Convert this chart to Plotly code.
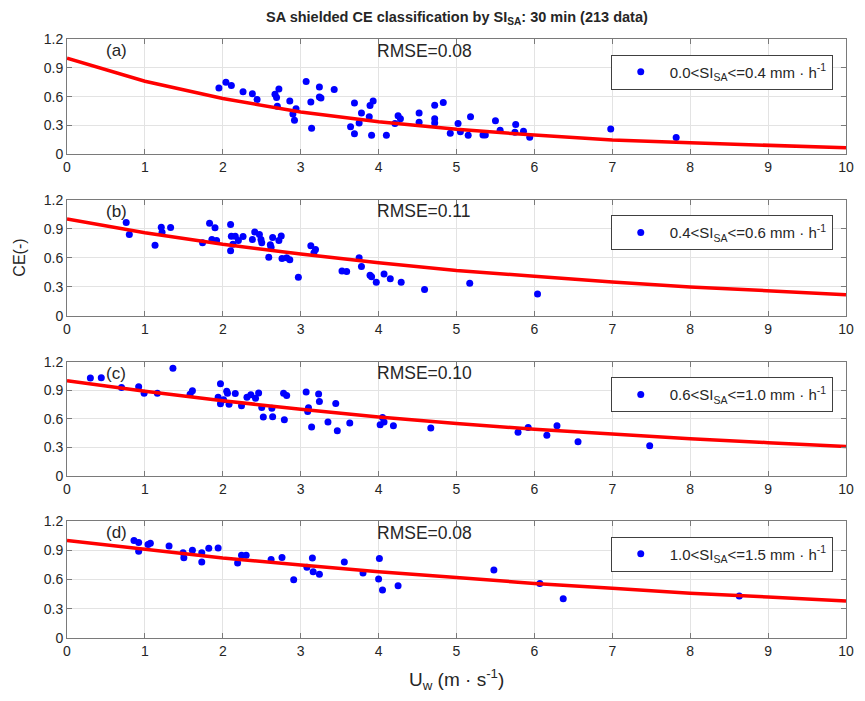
import plotly.graph_objects as go

# fitted curves, read at integer wind speeds
fit_x = [0, 1, 2, 3, 4, 5, 6, 7, 8, 9, 10]
fit_a = [1.0, 0.76, 0.58, 0.44, 0.34, 0.26, 0.20, 0.15, 0.12, 0.09, 0.067]
fit_b = [1.0, 0.86, 0.74, 0.64, 0.55, 0.47, 0.41, 0.35, 0.30, 0.26, 0.22]
fit_c = [1.0, 0.89, 0.79, 0.70, 0.62, 0.55, 0.49, 0.44, 0.39, 0.35, 0.31]
fit_d = [1.0, 0.91, 0.82, 0.75, 0.68, 0.62, 0.56, 0.51, 0.46, 0.42, 0.38]

# (a) 0.0<SI<=0.4
xa = [1.95, 2.04, 2.11, 2.26, 2.38, 2.44, 2.67, 2.69, 2.72, 2.70, 2.86, 2.94, 2.90, 2.92,
      3.07, 3.13, 3.14, 3.24, 3.24, 3.26, 3.43, 3.69, 3.64, 3.69, 3.78, 3.75, 3.88, 3.89,
      3.93, 3.91, 4.10, 4.21, 4.25, 4.28, 4.52, 4.52, 4.72, 4.72, 4.72, 4.83, 4.92, 5.02,
      5.05, 5.15, 5.18, 5.34, 5.37, 5.50, 5.56, 5.75, 5.76, 5.86, 5.94, 6.98, 7.82]
ya = [0.69, 0.75, 0.715, 0.65, 0.63, 0.57, 0.625, 0.59, 0.68, 0.50, 0.555, 0.475, 0.42, 0.354,
      0.757, 0.545, 0.27, 0.70, 0.597, 0.587, 0.674, 0.535, 0.288, 0.215, 0.43, 0.326, 0.39, 0.507,
      0.556, 0.198, 0.198, 0.32, 0.40, 0.37, 0.43, 0.333, 0.51, 0.37, 0.326, 0.54, 0.219, 0.32,
      0.236, 0.198, 0.39, 0.20, 0.20, 0.35, 0.25, 0.23, 0.31, 0.24, 0.177, 0.264, 0.174]

# (b) 0.4<SI<=0.6
xb = [0.76, 0.80, 1.13, 1.21, 1.22, 1.33, 1.74, 1.83, 1.90, 1.86, 1.92, 2.10, 2.11, 2.10,
      2.13, 2.16, 2.20, 2.26, 2.38, 2.41, 2.47, 2.49, 2.50, 2.61, 2.62, 2.59, 2.64, 2.72,
      2.75, 2.76, 2.82, 2.86, 2.97, 3.13, 3.19, 3.17, 3.53, 3.59, 3.75, 3.78, 3.89, 3.91,
      3.97, 4.07, 4.15, 4.29, 4.59, 5.17, 6.04]
yb = [0.965, 0.84, 0.73, 0.917, 0.865, 0.913, 0.757, 0.958, 0.91, 0.79, 0.78, 0.944, 0.823, 0.674,
      0.74, 0.823, 0.78, 0.82, 0.79, 0.868, 0.84, 0.79, 0.757, 0.736, 0.71, 0.607, 0.81, 0.78,
      0.826, 0.594, 0.60, 0.58, 0.40, 0.725, 0.687, 0.653, 0.465, 0.458, 0.60, 0.51, 0.42, 0.406,
      0.347, 0.434, 0.385, 0.347, 0.274, 0.337, 0.226]

# (c) 0.6<SI<=1.0
xc = [0.30, 0.44, 0.70, 0.92, 0.99, 1.16, 1.36, 1.58, 1.61, 1.97, 1.94, 1.97, 2.01, 2.05,
      2.06, 2.08, 2.16, 2.24, 2.31, 2.36, 2.42, 2.46, 2.50, 2.52, 2.63, 2.64, 2.78, 2.82,
      2.79, 3.07, 3.10, 3.09, 3.14, 3.23, 3.24, 3.35, 3.45, 3.47, 3.63, 4.02, 4.05, 4.07,
      4.19, 4.67, 5.79, 5.92, 6.16, 6.29, 6.56, 7.48]
yc = [1.028, 1.03, 0.93, 0.937, 0.868, 0.868, 1.13, 0.857, 0.896, 0.969, 0.826, 0.757, 0.80, 0.889,
      0.868, 0.753, 0.865, 0.736, 0.826, 0.854, 0.816, 0.872, 0.719, 0.618, 0.712, 0.621, 0.868, 0.844,
      0.59, 0.882, 0.715, 0.677, 0.514, 0.861, 0.781, 0.566, 0.76, 0.476, 0.556, 0.538, 0.615, 0.566,
      0.528, 0.503, 0.458, 0.51, 0.427, 0.528, 0.358, 0.316]

# (d) 1.0<SI<=1.5
xd = [0.86, 0.92, 0.92, 1.04, 1.07, 1.31, 1.49, 1.50, 1.61, 1.73, 1.73, 1.82, 1.94, 2.19,
      2.24, 2.30, 2.62, 2.76, 2.91, 3.08, 3.15, 3.16, 3.24, 3.56, 3.80, 4.01, 4.00, 4.05,
      4.25, 5.48, 6.07, 6.37, 8.63]
yd = [1.0, 0.98, 0.89, 0.958, 0.972, 0.944, 0.875, 0.823, 0.90, 0.875, 0.78, 0.92, 0.924, 0.77,
      0.85, 0.85, 0.806, 0.826, 0.597, 0.726, 0.82, 0.68, 0.653, 0.78, 0.667, 0.816, 0.604, 0.493,
      0.535, 0.698, 0.559, 0.403, 0.43]

panels = [
    ("(a)", "RMSE=0.08", "0.0<SI<sub>SA</sub><=0.4 mm · h<sup>-1</sup>", xa, ya, fit_a),
    ("(b)", "RMSE=0.11", "0.4<SI<sub>SA</sub><=0.6 mm · h<sup>-1</sup>", xb, yb, fit_b),
    ("(c)", "RMSE=0.10", "0.6<SI<sub>SA</sub><=1.0 mm · h<sup>-1</sup>", xc, yc, fit_c),
    ("(d)", "RMSE=0.08", "1.0<SI<sub>SA</sub><=1.5 mm · h<sup>-1</sup>", xd, yd, fit_d),
]

domains = [[0.8075, 1.0], [0.5376, 0.7317], [0.2705, 0.4613], [0.0, 0.1953]]

FONT = "Liberation Sans, Arial, sans-serif"

fig = go.Figure()
layout = {}
annotations = []

for i, (tag, rmse, label, xs, ys, fit) in enumerate(panels):
    n = i + 1
    xname = "x" if n == 1 else f"x{n}"
    yname = "y" if n == 1 else f"y{n}"
    lname = "legend" if n == 1 else f"legend{n}"

    fig.add_trace(go.Scatter(
        x=xs, y=ys, mode="markers", name=label,
        marker=dict(color="#0000ff", size=7),
        xaxis=xname, yaxis=yname, legend=lname, showlegend=True,
    ))
    fig.add_trace(go.Scatter(
        x=fit_x, y=fit, mode="lines",
        line=dict(color="#ff0000", width=3.5),
        xaxis=xname, yaxis=yname, showlegend=False, hoverinfo="skip",
    ))

    axis_common = dict(
        showline=True, linecolor="#7a7a7a", linewidth=1, mirror="allticks",
        ticks="inside", ticklen=5, tickcolor="#7a7a7a",
        showgrid=True, gridcolor="#e3e3e3", gridwidth=1, zeroline=False,
        tickfont=dict(family=FONT, size=14, color="#262626"),
    )
    layout["xaxis" if n == 1 else f"xaxis{n}"] = dict(
        axis_common, range=[0, 10], dtick=1, domain=[0, 1],
        anchor=yname, ticklabeloverflow="allow",
    )
    layout["yaxis" if n == 1 else f"yaxis{n}"] = dict(
        axis_common, range=[0, 1.2], tickvals=[0, 0.3, 0.6, 0.9, 1.2],
        ticktext=["0", "0.3", "0.6", "0.9", "1.2"], domain=domains[i],
        anchor=xname,
    )
    layout[lname] = dict(
        x=0.983, y=domains[i][1] - 0.026, xanchor="right", yanchor="top",
        xref="paper", yref="paper", itemwidth=48,
        bgcolor="white", bordercolor="#404040", borderwidth=1,
        font=dict(family=FONT, size=15, color="#262626"),
    )

    annotations.append(dict(
        x=0.48, y=1.08, xref=xname, yref=yname, text=tag, showarrow=False,
        xanchor="left", yanchor="middle",
        font=dict(family=FONT, size=17, color="#262626"),
    ))
    annotations.append(dict(
        x=3.95, y=1.08, xref=xname, yref=yname, text=rmse, showarrow=False,
        xanchor="left", yanchor="middle",
        font=dict(family=FONT, size=17.5, color="#262626"),
    ))

annotations.append(dict(
    x=0.5, y=1.0, xref="paper", yref="paper", yshift=21,
    text="<b>SA shielded CE classification by SI<sub>SA</sub>: 30 min (213 data)</b>",
    showarrow=False, xanchor="center", yanchor="middle",
    font=dict(family=FONT, size=14.5, color="#262626"),
))
annotations.append(dict(
    x=0.5, y=0, xref="paper", yref="paper", yshift=-41,
    text="U<sub>w</sub> (m · s<sup>-1</sup>)",
    showarrow=False, xanchor="center", yanchor="middle",
    font=dict(family=FONT, size=19, color="#262626"),
))
annotations.append(dict(
    x=0, y=0.635, xref="paper", yref="paper", xshift=-47,
    text="CE(-)", textangle=-90,
    showarrow=False, xanchor="center", yanchor="middle",
    font=dict(family=FONT, size=16, color="#262626"),
))

# the page keeps its 8px body margin, so the figure is sized to fit the window exactly
fig.update_layout(
    width=857, height=685,
    margin=dict(l=59, r=11, t=31, b=55),
    paper_bgcolor="white", plot_bgcolor="white",
    annotations=annotations,
    **layout,
)

fig.write_html("out.html")
